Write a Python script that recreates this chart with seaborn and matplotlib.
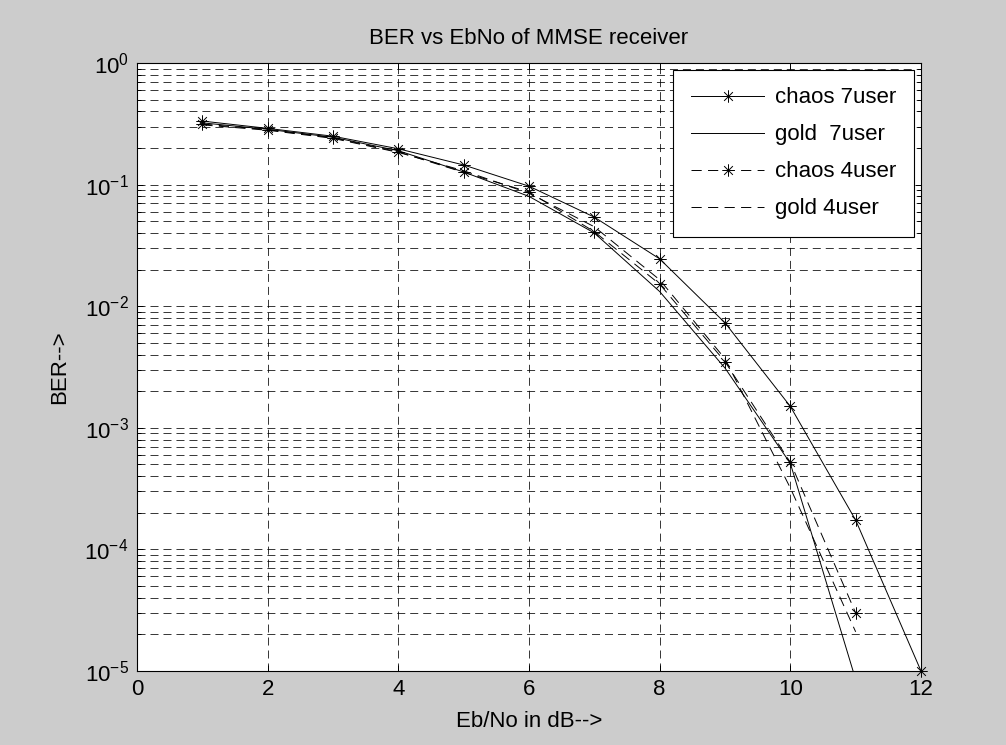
import numpy as np
import matplotlib
matplotlib.use("Agg")
import matplotlib.pyplot as plt
import seaborn as sns
import pandas as pd
from matplotlib.path import Path
from matplotlib.ticker import LogLocator, NullFormatter

# data
ebno_chaos7 = [1, 2, 3, 4, 5, 6, 7, 8, 9, 10, 11, 12]
chaos_7user = [0.333, 0.29, 0.25, 0.197, 0.145, 0.097, 0.054, 0.0245, 0.0073, 0.0015, 1.74e-4, 1.0e-5]

ebno_gold7 = [1, 2, 3, 4, 5, 6, 7, 8, 9, 10, 11]
gold_7user = [0.322, 0.285, 0.245, 0.19, 0.127, 0.08, 0.04, 0.0132, 0.0031, 5.1e-4, 8.5e-6]

ebno_4 = [1, 2, 3, 4, 5, 6, 7, 8, 9, 10, 11]
chaos_4user = [0.315, 0.283, 0.243, 0.186, 0.126, 0.087, 0.041, 0.0152, 0.0035, 5.2e-4, 3.0e-5]
gold_4user = [0.31, 0.28, 0.24, 0.184, 0.13, 0.085, 0.045, 0.0165, 0.0037, 3.2e-4, 2.1e-5]

plt.rcParams['font.family'] = ['Liberation Sans', 'DejaVu Sans']
plt.rcParams['mathtext.fontset'] = 'custom'
plt.rcParams['mathtext.rm'] = 'Liberation Sans'
plt.rcParams['mathtext.it'] = 'Liberation Sans'
plt.rcParams['mathtext.bf'] = 'Liberation Sans'

fs = 16

# matlab style '*' marker (plus and cross together)
star = Path([(-1, 0), (1, 0), (0, -1), (0, 1),
             (-0.7, -0.7), (0.7, 0.7), (-0.7, 0.7), (0.7, -0.7)],
            [Path.MOVETO, Path.LINETO] * 4)

dash = (0, (10.5, 6.5))

fig = plt.figure(figsize=(10.06, 7.45), dpi=100, facecolor='#cccccc')
ax = fig.add_axes([137/1006, 1 - 671/745, (921-137)/1006, (671-63)/745])
ax.set_facecolor('white')
ax.set_yscale('log')

sns.lineplot(x=ebno_chaos7, y=chaos_7user, ax=ax, color='k', lw=0.7, marker=star,
             markersize=9, markeredgecolor='k', markeredgewidth=0.7,
             label='chaos 7user', clip_on=False)
sns.lineplot(x=ebno_gold7, y=gold_7user, ax=ax, color='k', lw=0.7, label='gold  7user')
sns.lineplot(x=ebno_4, y=chaos_4user, ax=ax, color='k', lw=0.7, linestyle=dash,
             marker=star, markersize=9, markeredgecolor='k', markeredgewidth=0.7,
             label='chaos 4user')
sns.lineplot(x=ebno_4, y=gold_4user, ax=ax, color='k', lw=0.7, linestyle=dash,
             label='gold 4user')

ax.set_xlim(0, 12)
ax.set_ylim(1e-5, 1)
ax.set_xticks(range(0, 13, 2))
ax.yaxis.set_major_locator(LogLocator(base=10, numticks=10))
ax.yaxis.set_minor_locator(LogLocator(base=10, subs=np.arange(2, 10), numticks=20))
ax.yaxis.set_minor_formatter(NullFormatter())

ax.grid(True, which='major', color='k', lw=0.55, linestyle=dash)
ax.grid(True, which='minor', axis='y', color='k', lw=0.55, linestyle=dash)

ax.tick_params(which='both', direction='in', top=True, right=True,
               labelsize=fs, width=0.7, pad=6)
ax.tick_params(which='major', length=4)
ax.tick_params(which='minor', length=3)
for s in ax.spines.values():
    s.set_linewidth(0.8)

ax.set_title('BER vs EbNo of MMSE receiver', fontsize=fs, pad=14)
ax.set_xlabel('Eb/No in dB-->', fontsize=fs, labelpad=8)
ax.set_ylabel('BER-->', fontsize=fs, labelpad=10)

leg = ax.legend(loc='upper right', fontsize=fs, numpoints=1, handlelength=3.3,
                handletextpad=0.5, labelspacing=0.72, borderpad=0.8,
                borderaxespad=0.3, fancybox=False, framealpha=1, edgecolor='k')
leg.get_frame().set_linewidth(0.8)

fig.savefig('out.png', dpi=100, facecolor=fig.get_facecolor())
